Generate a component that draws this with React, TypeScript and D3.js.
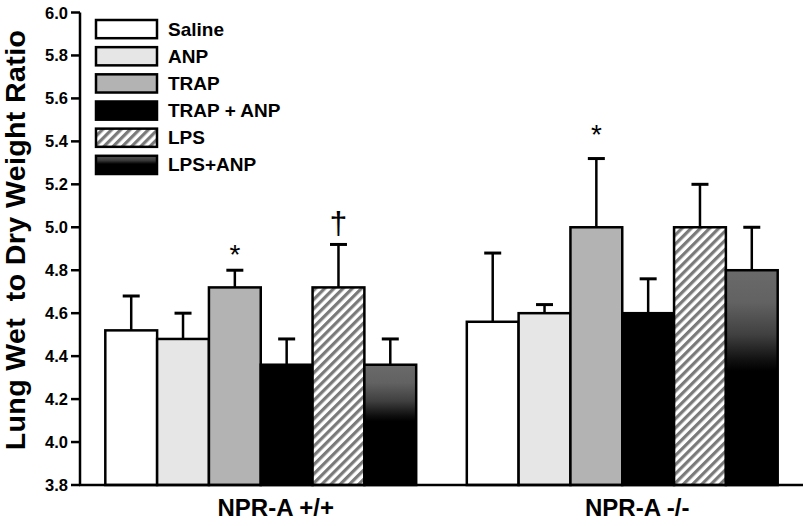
import React from "react";
import * as d3 from "d3";

const groups = ["NPR-A +/+", "NPR-A -/-"];
const series = ["Saline", "ANP", "TRAP", "TRAP + ANP", "LPS", "LPS+ANP"];
const meansWT = [4.52, 4.48, 4.72, 4.36, 4.72, 4.36];
const errTopWT = [4.68, 4.6, 4.8, 4.48, 4.92, 4.48];
const meansKO = [4.56, 4.6, 5.0, 4.6, 5.0, 4.8];
const errTopKO = [4.88, 4.64, 5.32, 4.76, 5.2, 5.0];
const yTicks = [3.8, 4.0, 4.2, 4.4, 4.6, 4.8, 5.0, 5.2, 5.4, 5.6, 5.8, 6.0];
const annotations = [
  { group: 0, series: 2, symbol: "*", value: 4.905 },
  { group: 0, series: 4, symbol: "†", value: 5.02 },
  { group: 1, series: 2, symbol: "*", value: 5.465 },
];

const W = 806;
const H = 526;
const FONT = "'Liberation Sans', Arial, Helvetica, sans-serif";

const fills = ["#ffffff", "#e6e6e6", "#b3b3b3", "#000000", "url(#hatch)", "url(#grad)"];
const legendFills = ["#ffffff", "#e6e6e6", "#b3b3b3", "#000000", "url(#hatch)", "url(#gradLegend)"];

export default function App() {
  const y = d3.scaleLinear().domain([3.8, 6.0]).range([485, 12.5]);
  const x0 = d3.scaleBand().domain(groups).range([80, 803]).paddingInner(0.14).paddingOuter(0.07);
  const x1 = d3.scaleBand().domain(series).range([0, x0.bandwidth()]).padding(0);
  const means = [meansWT, meansKO];
  const errs = [errTopWT, errTopKO];
  const legY = d3.scaleBand().domain(series).range([20, 174]).paddingInner(0.33).paddingOuter(0);

  return (
    <svg width={W} height={H} style={{ position: "absolute", left: 0, top: 0, background: "#fff" }} fontFamily={FONT}>
      <defs>
        <pattern id="hatch" patternUnits="userSpaceOnUse" width="6.5" height="6.5" patternTransform="rotate(45)">
          <rect width="6.5" height="6.5" fill="#ffffff" />
          <rect width="3.2" height="6.5" fill="#7a7a7a" />
        </pattern>
        <linearGradient id="grad" x1="0" y1="0" x2="0" y2="1">
          <stop offset="0" stopColor="#6a6a6a" />
          <stop offset="0.15" stopColor="#626262" />
          <stop offset="0.3" stopColor="#404040" />
          <stop offset="0.42" stopColor="#101010" />
          <stop offset="0.47" stopColor="#000000" />
          <stop offset="1" stopColor="#000000" />
        </linearGradient>
        <linearGradient id="gradLegend" x1="0" y1="0" x2="0" y2="1">
          <stop offset="0" stopColor="#5a5a5a" />
          <stop offset="0.25" stopColor="#3a3a3a" />
          <stop offset="0.45" stopColor="#000000" />
          <stop offset="1" stopColor="#000000" />
        </linearGradient>
      </defs>

      {/* bars */}
      {groups.map((g, gi) => (
        <g key={g} transform={`translate(${x0(g)},0)`}>
          {series.map((s, si) => {
            const v = means[gi][si];
            const e = errs[gi][si];
            const bx = x1(s)!;
            const bw = x1.bandwidth();
            const cx = bx + bw / 2;
            return (
              <g key={s}>
                <line x1={cx} x2={cx} y1={y(v)} y2={y(e)} stroke="#000" strokeWidth={2.5} />
                <line x1={cx - 8.5} x2={cx + 8.5} y1={y(e)} y2={y(e)} stroke="#000" strokeWidth={3} />
                <rect x={bx} y={y(v)} width={bw} height={y(3.8) - y(v)} fill={fills[si]} stroke="#000" strokeWidth={2.5} />
              </g>
            );
          })}
        </g>
      ))}

      {/* annotations */}
      {annotations.map((a, i) => {
        const s = series[a.series];
        const cx = x0(groups[a.group])! + x1(s)! + x1.bandwidth() / 2;
        return (
          <text
            key={i}
            x={cx}
            y={y(a.value)}
            textAnchor="middle"
            dominantBaseline="central"
            fontSize={a.symbol === "*" ? 28 : 32}
            fontFamily={FONT}
            dy={a.symbol === "*" ? 7 : 0}
          >
            {a.symbol}
          </text>
        );
      })}

      {/* axes */}
      <line x1={80} x2={80} y1={y(6.0)} y2={y(3.8)} stroke="#000" strokeWidth={2.5} />
      <line x1={79} x2={803} y1={y(3.8)} y2={y(3.8)} stroke="#000" strokeWidth={2.5} />
      {yTicks.map((t) => (
        <g key={t}>
          <line x1={71} x2={80} y1={y(t)} y2={y(t)} stroke="#000" strokeWidth={2.5} />
          <text x={68} y={y(t)} textAnchor="end" dominantBaseline="central" fontSize={16.5} fontWeight="bold">
            {t.toFixed(1)}
          </text>
        </g>
      ))}
      {groups.map((g) => (
        <text key={g} x={x0(g)! + x0.bandwidth() / 2 + 15} y={516} textAnchor="middle" fontSize={24} fontWeight="bold">
          {g}
        </text>
      ))}
      <text
        transform={`translate(25,240) rotate(-90)`}
        textAnchor="middle"
        fontSize={28.5}
        fontWeight="bold"
        letterSpacing={0.4}
        style={{ whiteSpace: "pre" }}
      >
        {"Lung Wet\u00a0 to Dry Weight Ratio"}
      </text>

      {/* legend */}
      {series.map((s, si) => (
        <g key={s}>
          <rect x={96} y={legY(s)!} width={61} height={legY.bandwidth()} fill={legendFills[si]} stroke="#000" strokeWidth={2.5} />
          <text x={168} y={legY(s)! + legY.bandwidth() / 2} dominantBaseline="central" fontSize={19} fontWeight="bold">
            {s}
          </text>
        </g>
      ))}
    </svg>
  );
}
